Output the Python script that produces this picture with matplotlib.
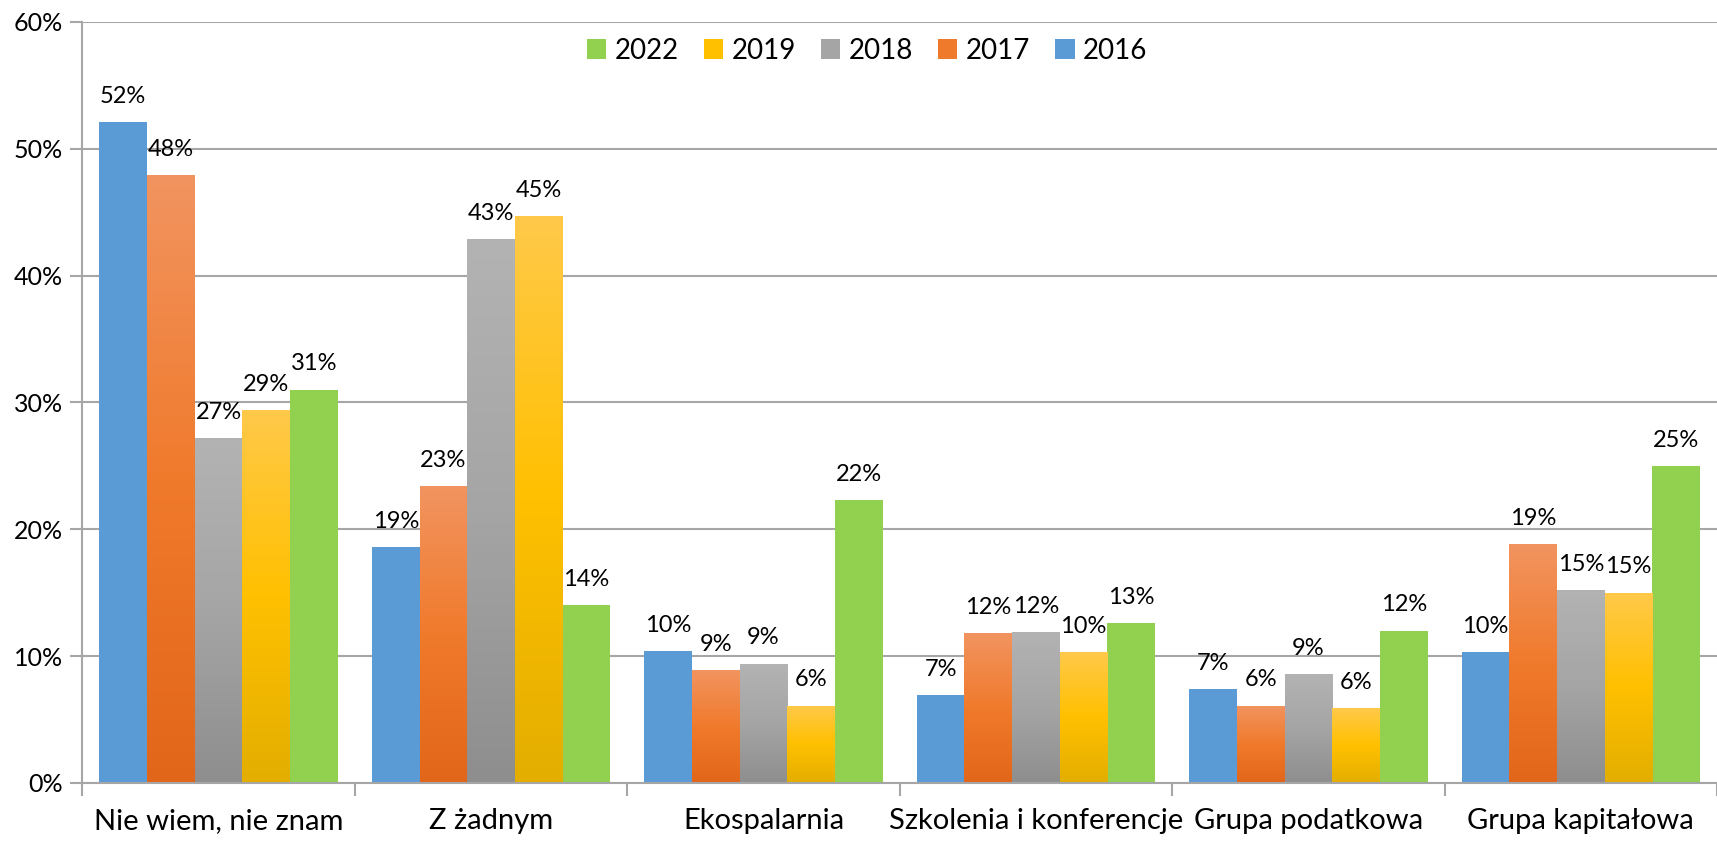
import numpy as np
import matplotlib
matplotlib.use("Agg")
import matplotlib.pyplot as plt
from matplotlib.colors import LinearSegmentedColormap
from matplotlib.ticker import FixedLocator, PercentFormatter

plt.rcParams['font.family'] = ['Lato', 'DejaVu Sans']

categories = ["Nie wiem, nie znam", "Z żadnym", "Ekospalarnia",
              "Szkolenia i konferencje", "Grupa podatkowa", "Grupa kapitałowa"]
years = ["2016", "2017", "2018", "2019", "2022"]
v2016 = [52.1, 18.6, 10.4, 6.9, 7.4, 10.3]
v2017 = [47.9, 23.4, 8.9, 11.8, 6.1, 18.8]
v2018 = [27.2, 42.9, 9.4, 11.9, 8.6, 15.2]
v2019 = [29.4, 44.7, 6.1, 10.3, 5.9, 15.0]
v2022 = [31.0, 14.0, 22.3, 12.6, 12.0, 25.0]
series = [v2016, v2017, v2018, v2019, v2022]

# flat colour or (top, middle, bottom) gradient
styles = [
    "#5B9BD5",
    ("#F29460", "#F07A2C", "#E2661A"),
    ("#B3B3B3", "#A5A5A5", "#8E8E8E"),
    ("#FFC94A", "#FFC000", "#E3AE00"),
    "#92D050",
]

fig = plt.figure(figsize=(17.17, 8.41), dpi=100)
ax = fig.add_axes([0.048, 0.069, 0.952, 0.905])

x = np.arange(len(categories))
w = 0.175
grad = np.linspace(0, 1, 256).reshape(-1, 1)

for k, (vals, st) in enumerate(zip(series, styles)):
    pos = x + (k - 2) * w
    flat = st if isinstance(st, str) else st[1]
    bars = ax.bar(pos, vals, width=w, color=flat, zorder=2, label=years[k])
    if not isinstance(st, str):
        cmap = LinearSegmentedColormap.from_list("g%d" % k, [st[2], st[1], st[0]])
        for b in bars:
            x0, y0 = b.get_x(), b.get_y()
            im = ax.imshow(grad, extent=(x0, x0 + b.get_width(), y0, y0 + b.get_height()),
                           origin="lower", cmap=cmap, aspect="auto", zorder=2.5)
            im.set_clip_path(b)
    for p, v in zip(pos, vals):
        ax.annotate("%d%%" % round(v), (p, v), xytext=(0, 11), textcoords="offset points",
                    ha="center", va="bottom", fontsize=17, zorder=4)

ax.set_xlim(-0.5, len(categories) - 0.5)
ax.set_ylim(0, 60)
ax.set_yticks(np.arange(0, 61, 10))
ax.yaxis.set_major_formatter(PercentFormatter(decimals=0))
ax.grid(axis="y", color="#A6A6A6", linewidth=1.5, zorder=0)
ax.set_axisbelow(True)

ax.set_xticks(x)
ax.set_xticklabels(categories, fontsize=21)
ax.xaxis.set_minor_locator(FixedLocator(np.arange(-0.5, len(categories), 1.0)))
ax.tick_params(axis="x", which="major", length=0, pad=18)
ax.tick_params(axis="x", which="minor", length=9, width=1.5, color="#A6A6A6")
ax.tick_params(axis="y", length=9, width=1.5, color="#A6A6A6", labelsize=18, pad=5)

for s in ["top", "right"]:
    ax.spines[s].set_visible(False)
for s in ["left", "bottom"]:
    ax.spines[s].set_color("#A6A6A6")
    ax.spines[s].set_linewidth(1.5)

h, l = ax.get_legend_handles_labels()
ax.legend(h[::-1], l[::-1], loc="upper center", bbox_to_anchor=(0.48, 1.012), ncol=5,
          frameon=False, fontsize=20, handlelength=0.7, handleheight=0.7,
          columnspacing=0.9, handletextpad=0.3)

fig.savefig("out.png", dpi=100)
